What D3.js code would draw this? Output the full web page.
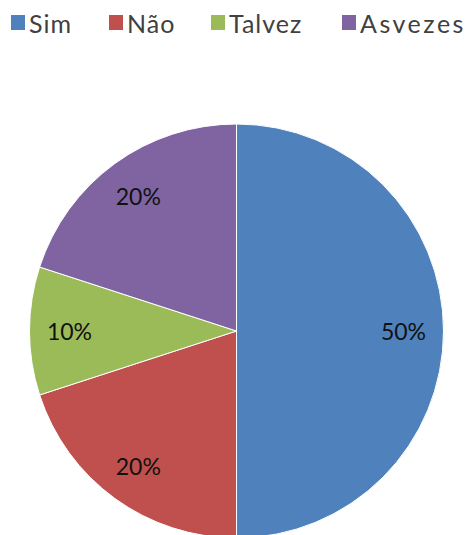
<!DOCTYPE html>
<html>
<head>
<meta charset="utf-8">
<script src="https://cdn.jsdelivr.net/npm/d3@7"></script>
<style>
  html, body { margin: 0; padding: 0; background: #fff; }
  svg { display: block; }
</style>
</head>
<body>
<svg id="chart" width="474" height="535"></svg>
<script>
// Survey answers and their shares
const categories = ["Sim", "Não", "Talvez", "Asvezes"];
const values = [50, 20, 10, 20];
const colors = ["#4F81BD", "#C0504D", "#9BBB59", "#8064A2"];

const width = 474, height = 535;
const cx = 236.5, cy = 331, radius = 207;

const svg = d3.select("#chart");

const color = d3.scaleOrdinal().domain(categories).range(colors);

const data = categories.map((c, i) => ({ name: c, value: values[i] }));

const pie = d3.pie().value(d => d.value).sort(null);
const arc = d3.arc().innerRadius(0).outerRadius(radius);
const labelArc = d3.arc().innerRadius(167).outerRadius(167);

const total = d3.sum(values);

const g = svg.append("g").attr("transform", `translate(${cx},${cy})`);

const arcs = pie(data);

g.selectAll("path.slice")
  .data(arcs)
  .join("path")
  .attr("class", "slice")
  .attr("d", arc)
  .attr("fill", d => color(d.data.name))
  .attr("stroke", "#ffffff")
  .attr("stroke-width", 1);

g.selectAll("text.pct")
  .data(arcs)
  .join("text")
  .attr("class", "pct")
  .attr("transform", d => `translate(${labelArc.centroid(d)})`)
  .attr("text-anchor", "middle")
  .attr("dominant-baseline", "central")
  .attr("font-family", "Lato, 'Open Sans', sans-serif")
  .attr("font-size", 23)
  .attr("fill", "#111111")
  .text(d => Math.round(d.data.value / total * 100) + "%");

// Legend row across the top
const legendX = [11, 109, 211, 342];
const legend = svg.append("g").attr("class", "legend");
const items = legend.selectAll("g")
  .data(data)
  .join("g")
  .attr("transform", (d, i) => `translate(${legendX[i]},23)`);

items.append("rect")
  .attr("x", 0).attr("y", -8)
  .attr("width", 14).attr("height", 15)
  .attr("fill", d => color(d.name));

items.append("text")
  .attr("x", 18)
  .attr("y", 0)
  .attr("dominant-baseline", "central")
  .attr("font-family", "Lato, 'Open Sans', sans-serif")
  .attr("font-size", 25)
  .attr("letter-spacing", (d, i) => i === 3 ? 2.5 : 1)
  .attr("fill", "#404040")
  .text(d => d.name);
</script>
</body>
</html>
